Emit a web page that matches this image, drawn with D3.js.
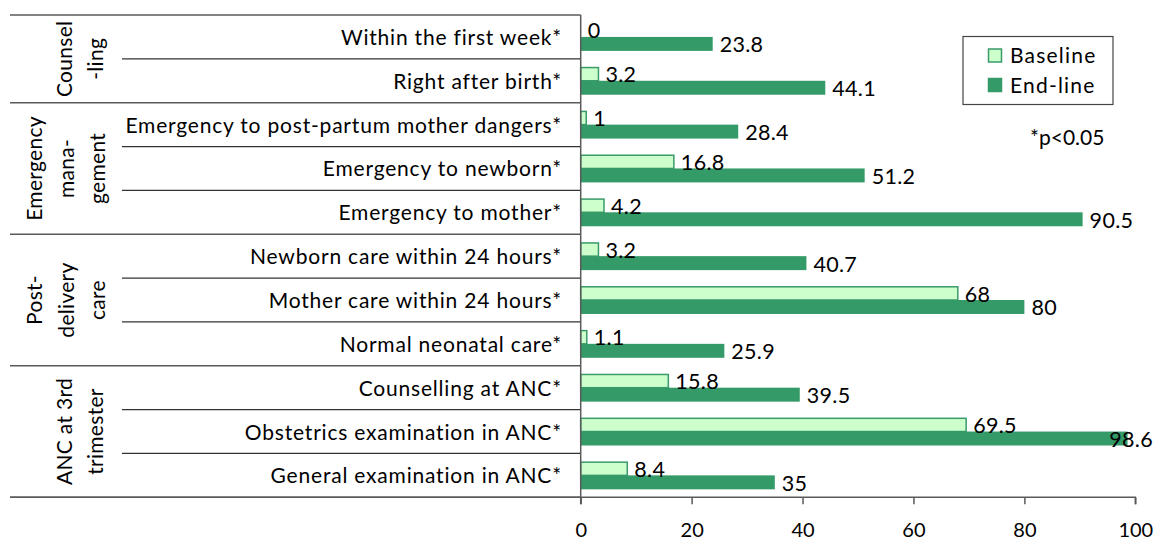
<!DOCTYPE html>
<html><head><meta charset="utf-8">
<script src="https://cdn.jsdelivr.net/npm/d3@7"></script>
<style>
html,body{margin:0;padding:0;background:#fff;}
svg{display:block;font-family:Lato,"Open Sans",sans-serif;}
</style></head>
<body>
<svg id="chart" width="1161" height="543"></svg>
<script>
const categories = [
  "Within the first week*",
  "Right after birth*",
  "Emergency to post-partum mother dangers*",
  "Emergency to newborn*",
  "Emergency to mother*",
  "Newborn care within 24 hours*",
  "Mother care within 24 hours*",
  "Normal neonatal care*",
  "Counselling at ANC*",
  "Obstetrics examination in ANC*",
  "General examination in ANC*"
];
const baseline = [0, 3.2, 1, 16.8, 4.2, 3.2, 68, 1.1, 15.8, 69.5, 8.4];
const endline  = [23.8, 44.1, 28.4, 51.2, 90.5, 40.7, 80, 25.9, 39.5, 98.6, 35];
const seriesNames = ["Baseline", "End-line"];
const groupLabels = [["Counsel","-ling"], ["Emergency","mana-","gement"], ["Post-","delivery","care"], ["ANC at 3rd","trimester"]];
const groupSizes = [2, 3, 3, 3];
const xTicks = [0, 20, 40, 60, 80, 100];
const note = "*p<0.05";

(function(){
const svg = d3.select("#chart");
const pLeft = 580.7, pRight = 1135.3, pTop = 15, pBottom = 497.3;
const tableLeft = 10, rowLineLeft = 122;
const lineColor = "#5a5a5a";
const colors = {fill: ["#ccffcc", "#349a68"], stroke: ["#3a9a6a", "#349a68"]};

const x = d3.scaleLinear().domain([0, 100]).range([pLeft, pRight]);
const y = d3.scaleBand().domain(categories).range([pTop, pBottom]).padding(0);
const ySub = d3.scaleBand().domain(seriesNames).range([0, y.bandwidth()]).paddingInner(0).paddingOuter(0.57);

const data = categories.map((c, i) => ({cat: c, vals: [baseline[i], endline[i]]}));

let idx = 0;
const groupBounds = [];
groupSizes.forEach((n, g) => {
  const y0 = y(categories[idx]);
  const y1 = y(categories[idx + n - 1]) + y.bandwidth();
  groupBounds.push([y0, y1]);
  idx += n;
});
const gLines = [pTop].concat(groupBounds.map(b => b[1]));
svg.selectAll("line.grp").data(gLines).enter().append("line")
  .attr("x1", tableLeft).attr("x2", pLeft).attr("y1", d => d).attr("y2", d => d)
  .attr("stroke", lineColor).attr("stroke-width", 1.5);
const rowLines = [];
idx = 0;
groupSizes.forEach(n => {
  for (let k = 1; k < n; k++) rowLines.push(y(categories[idx + k]));
  idx += n;
});
svg.selectAll("line.row").data(rowLines).enter().append("line")
  .attr("x1", rowLineLeft).attr("x2", pLeft).attr("y1", d => d).attr("y2", d => d)
  .attr("stroke", "#333").attr("stroke-width", 1.2);

groupLabels.forEach((lines, g) => {
  const cy = (groupBounds[g][0] + groupBounds[g][1]) / 2;
  const n = lines.length;
  const cx = n === 3 ? 65 : 79;
  const sp = 31.5;
  lines.forEach((t, k) => {
    const lx = cx + (k - (n - 1) / 2) * sp;
    svg.append("text")
      .attr("transform", `translate(${lx},${cy}) rotate(-90)`)
      .attr("text-anchor", "middle").attr("dominant-baseline", "central")
      .attr("font-size", 21).attr("letter-spacing", 0.3).attr("fill", "#000").text(t);
  });
});

svg.selectAll("text.cat").data(categories).enter().append("text")
  .attr("x", 562).attr("y", d => y(d) + y.bandwidth() / 2 + 8)
  .attr("text-anchor", "end").attr("font-size", 21).attr("letter-spacing", 0.8)
  .attr("fill", "#000").text(d => d);

const rows = svg.selectAll("g.row").data(data).enter().append("g")
  .attr("transform", d => `translate(0,${y(d.cat)})`);
seriesNames.forEach((s, si) => {
  rows.append("rect")
    .attr("x", x(0)).attr("y", ySub(s) + (si === 0 ? 0.75 : 0))
    .attr("width", d => Math.max(0, x(d.vals[si]) - x(0)))
    .attr("height", ySub.bandwidth() - (si === 0 ? 0.75 : 0))
    .attr("fill", colors.fill[si])
    .attr("stroke", si === 0 ? colors.stroke[si] : "none")
    .attr("stroke-width", 1.5);
});
seriesNames.forEach((s, si) => {
  rows.append("text")
    .attr("x", d => x(d.vals[si]) + 7)
    .attr("y", ySub(s) + ySub.bandwidth() / 2 + 8.5)
    .attr("font-size", 21.5).attr("letter-spacing", 0.3).attr("fill", "#000")
    .text(d => d.vals[si])
    .each(function() {
      const w = this.getComputedTextLength();
      const xx = +this.getAttribute("x");
      if (xx + w > 1153) this.setAttribute("x", 1153 - w);
    });
});

svg.append("line").attr("x1", pLeft).attr("x2", pLeft).attr("y1", pTop).attr("y2", pBottom)
  .attr("stroke", lineColor).attr("stroke-width", 1.5);
const xAxis = d3.axisBottom(x).tickValues(xTicks).tickSize(7).tickPadding(19).tickFormat(d3.format("d"));
const ax = svg.append("g").attr("transform", `translate(0,${pBottom})`).call(xAxis);
ax.select(".domain").attr("stroke", lineColor).attr("stroke-width", 1.5).attr("d", `M${pLeft},7V0H${pRight}V7`);
ax.selectAll(".tick line").attr("stroke", lineColor).attr("stroke-width", 1.5);
ax.selectAll(".tick text").attr("font-size", 20).attr("font-family", "Lato, sans-serif").attr("fill", "#000");
svg.append("line").attr("x1", tableLeft).attr("x2", pLeft).attr("y1", pBottom).attr("y2", pBottom)
  .attr("stroke", lineColor).attr("stroke-width", 1.5);

const lg = svg.append("g");
lg.append("rect").attr("x", 963).attr("y", 36.5).attr("width", 150).attr("height", 68)
  .attr("fill", "#fff").attr("stroke", "#444").attr("stroke-width", 1.2);
seriesNames.forEach((s, si) => {
  const yy = si === 0 ? 49 : 78.5;
  lg.append("rect").attr("x", 988.5).attr("y", yy).attr("width", 13).attr("height", 13)
    .attr("fill", colors.fill[si]).attr("stroke", colors.stroke[si]).attr("stroke-width", 1.5);
  lg.append("text").attr("x", 1010).attr("y", yy + 14).attr("font-size", 21)
    .attr("letter-spacing", 1.2).attr("fill", "#000").text(s);
});
svg.append("text").attr("x", 1030).attr("y", 145).attr("font-size", 21).attr("fill", "#000").text(note);
})();
</script>
</body></html>
